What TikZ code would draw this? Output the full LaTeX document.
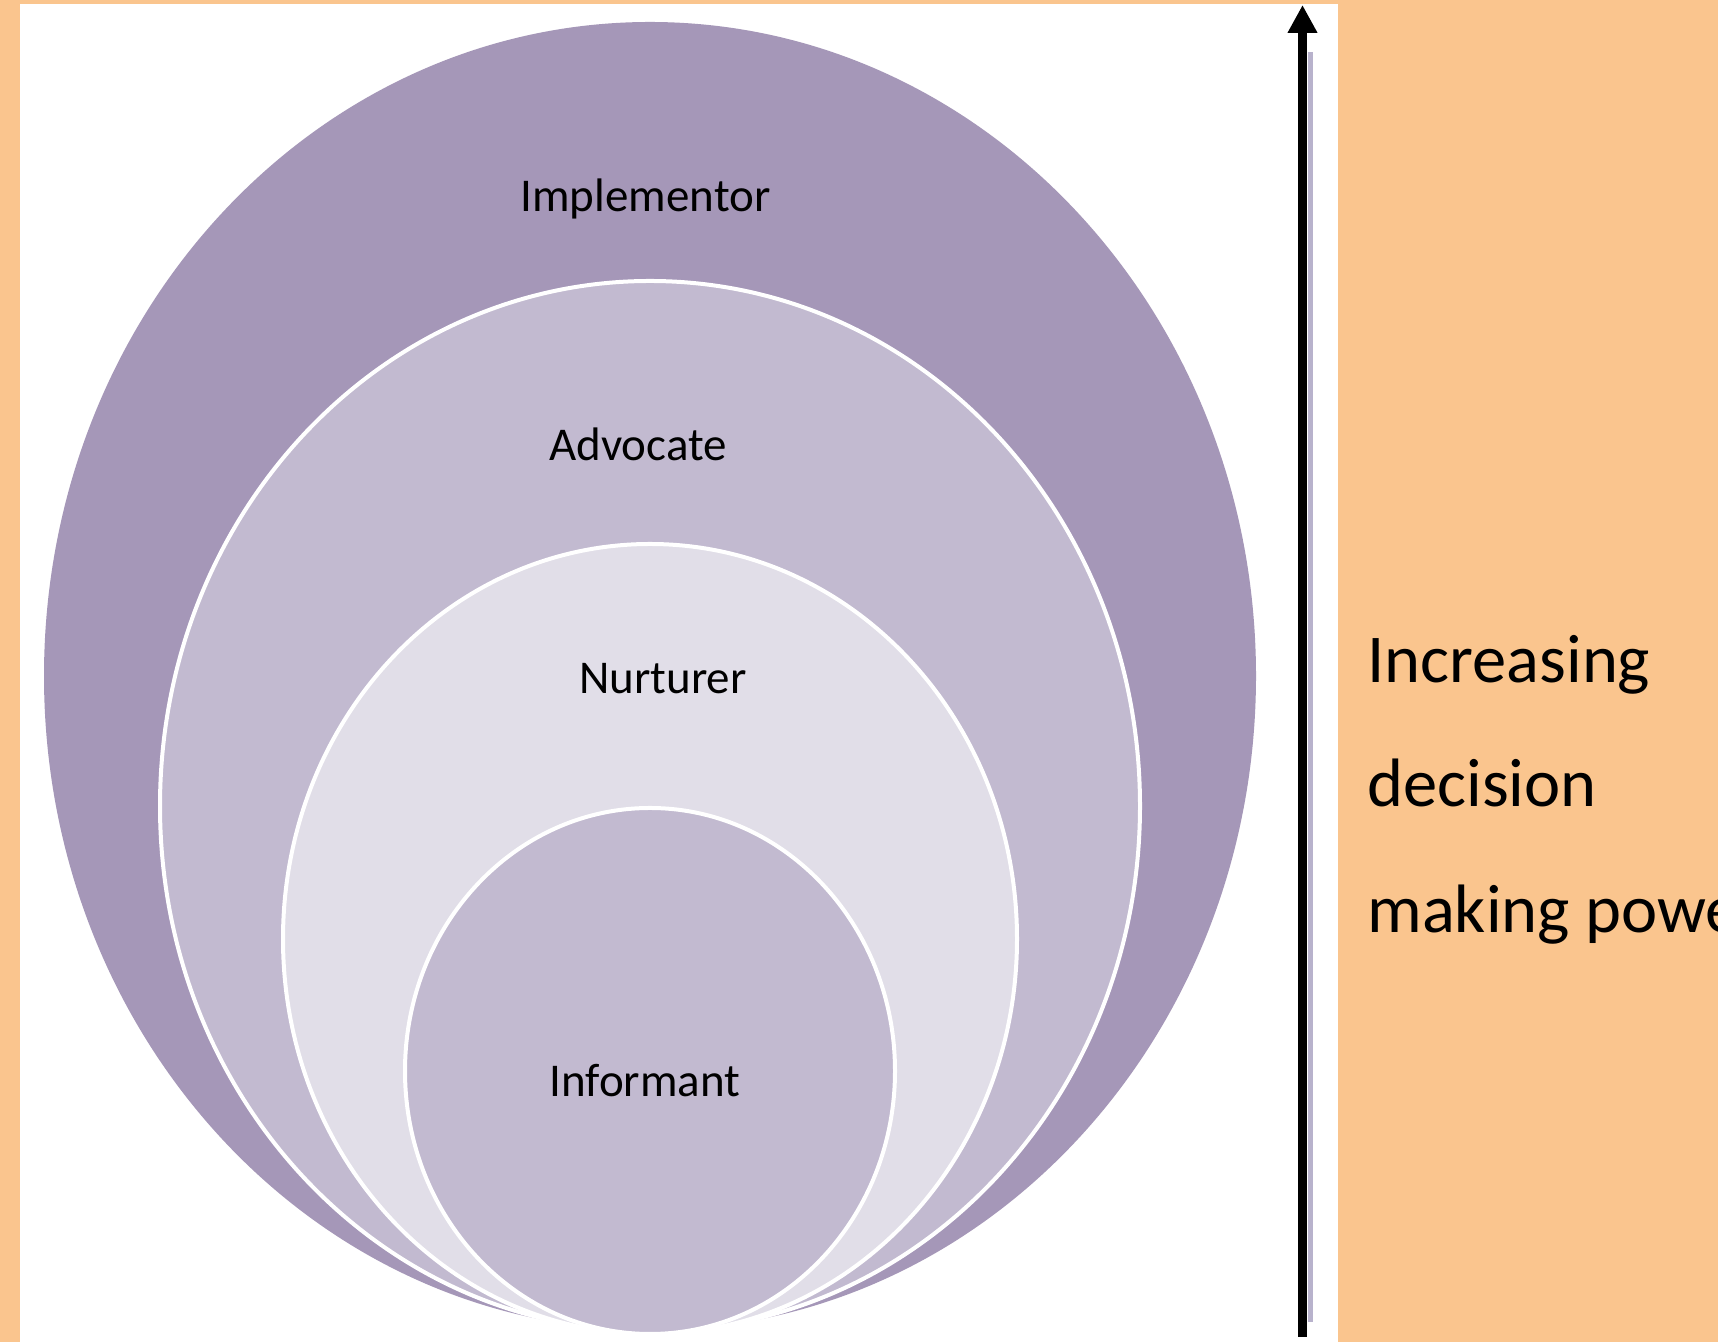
\documentclass[tikz,border=0pt]{standalone}
\usepackage{fontspec}
\setmainfont{Carlito}
\usetikzlibrary{arrows.meta}
\definecolor{bgorange}{RGB}{250,197,142}
\definecolor{ringdark}{RGB}{165,151,184}
\definecolor{ringmid}{RGB}{194,186,208}
\definecolor{ringlight}{RGB}{225,222,232}
\definecolor{shadowline}{RGB}{184,178,204}
\begin{document}
\begin{tikzpicture}[x=0.5pt,y=0.5pt,
  ring/.style={draw=white,line width=2pt},
  lab/.style={font=\fontsize{23.5pt}{28pt}\selectfont, inner sep=0pt, anchor=base},
  side/.style={font=\fontsize{34.25pt}{40pt}\selectfont, inner sep=0pt, anchor=base west}]
\useasboundingbox (0,0) rectangle (1718,1342);
\fill[bgorange] (0,0) rectangle (1718,1342);
\fill[white] (20,0) rectangle (1338,1338);
% nested rings
\fill[ringdark] (650,666) ellipse [x radius=606, y radius=654];
\filldraw[ringmid,ring] (650,536) ellipse [x radius=490, y radius=525];
\filldraw[ringlight,ring] (650,403) ellipse [x radius=367, y radius=395];
\filldraw[ringmid,ring] (650,271) ellipse [x radius=245, y radius=263];
% labels
\node[lab] (impl) at (645.5,1130.5) {Implementor};
\node[lab] (advo) at (638,881) {Advocate};
\node[lab] (nurt) at (663,648) {Nurturer};
\node[lab] (info) at (645,245) {Informant};
% arrow
\coordinate (aS) at (1302.5,5);
\coordinate (aN) at (1302.5,1337);
\coordinate (sS) at (1310,20);
\coordinate (sN) at (1310,1290);
\draw[shadowline,line width=2.5pt] (sS) -- (sN);
\draw[line width=4.5pt,-{Triangle[length=14pt,width=14pt]}] (aS) -- (aN);
% side text
\begin{scope}
\clip (0,0) rectangle (1718,1342);
\node[side] (t1) at (1367,659) {Increasing};
\node[side] (t2) at (1367,535) {decision};
\node[side] (t3) at (1367,409) {making power};
\end{scope}
\end{tikzpicture}
\end{document}
